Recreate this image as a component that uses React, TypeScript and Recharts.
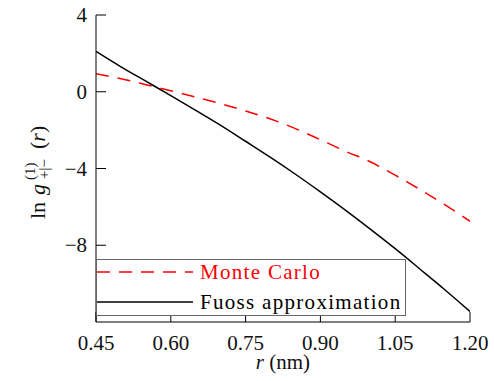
import React from "react";
import { LineChart, Line, XAxis, YAxis, Legend } from "recharts";

// r in nm, ln g values
const rValues = [0.45, 0.5, 0.55, 0.6, 0.65, 0.7, 0.75, 0.8, 0.85, 0.9, 0.95, 1.0, 1.05, 1.1, 1.15, 1.2];
const monteCarlo = [0.94, 0.68, 0.37, 0.05, -0.28, -0.62, -1.0, -1.42, -1.92, -2.5, -3.1, -3.65, -4.35, -5.1, -5.9, -6.75];
const fuoss = [2.1, 1.3, 0.55, -0.2, -0.97, -1.75, -2.58, -3.42, -4.3, -5.22, -6.17, -7.16, -8.18, -9.25, -10.33, -11.45];

const xTicks = [0.45, 0.6, 0.75, 0.9, 1.05, 1.2];
const yTicks = [-8, -4, 0, 4];
const legendOrder = ["Monte Carlo", "Fuoss approximation"];

const data = rValues.map((r, i) => ({ r, mc: monteCarlo[i], fuoss: fuoss[i] }));

const FONT = "'Liberation Serif', 'Times New Roman', serif";
const TICK_LEN = 10;

const fmtY = (v: number) => (v < 0 ? "\u2212" + Math.abs(v) : String(v));

const BottomTick = ({ x, y, payload }: any) => (
  <g>
    <line x1={x} x2={x} y1={y} y2={y - TICK_LEN} stroke="#000" />
    <text x={x} y={y + 28} textAnchor="middle" fontFamily={FONT} fontSize={21} fill="#111">
      {payload.value.toFixed(2)}
    </text>
  </g>
);

const TopTick = ({ x, y }: any) => (
  <line x1={x} x2={x} y1={y} y2={y + TICK_LEN} stroke="#444" />
);

const LeftTick = ({ x, y, payload }: any) => (
  <g>
    <line x1={x} x2={x + TICK_LEN} y1={y} y2={y} stroke="#000" />
    <text x={x - 9} y={y + 7} textAnchor="end" fontFamily={FONT} fontSize={21} fill="#111">
      {fmtY(payload.value)}
    </text>
  </g>
);

const RightTick = ({ x, y }: any) => (
  <line x1={x} x2={x - TICK_LEN} y1={y} y2={y} stroke="#444" />
);

const YLabel = () => (
  <g transform="translate(45,170) rotate(-90)" fontFamily={FONT} fill="#111">
    <text x={-49} y={0} fontSize={22}>ln</text>
    <text x={-25} y={0} fontSize={22} fontStyle="italic">g</text>
    <text x={-10} y={-10} fontSize={15}>(1)</text>
    <text x={-9} y={4} fontSize={15}>+|−</text>
    <text x={21} y={0} fontSize={22}>
      (<tspan fontStyle="italic">r</tspan>)
    </text>
  </g>
);

const XLabel = ({ viewBox }: any) => (
  <text x={283} y={viewBox.y + 47} textAnchor="middle" fontFamily={FONT} fontSize={21} fill="#111">
    <tspan fontStyle="italic">r</tspan> (nm)
  </text>
);

const LegendBox = ({ payload }: any) => {
  const items = [...(payload || [])].sort(
    (a: any, b: any) => legendOrder.indexOf(a.value) - legendOrder.indexOf(b.value)
  );
  return (
    <div style={{ width: 310, height: 57, boxSizing: "border-box", border: "1px solid #666", background: "#fff" }}>
      <svg width={308} height={55} style={{ display: "block" }}>
        {items.map((entry: any, i: number) => {
          const cy = 12 + i * 30;
          return (
            <g key={entry.value}>
              <line
                x1={0}
                x2={96}
                y1={cy}
                y2={cy}
                stroke={entry.color}
                strokeWidth={1.5}
                strokeDasharray={entry.payload?.strokeDasharray}
              />
              <text x={103} y={cy + 7} fontFamily={FONT} fontSize={21} letterSpacing={1.3} fill={entry.color}>
                {entry.value}
              </text>
            </g>
          );
        })}
      </svg>
    </div>
  );
};

export default function App() {
  return (
    <>
      <style>{"body{margin:0}"}</style>
      <LineChart width={494} height={381} data={data} margin={{ top: 15, right: 24, bottom: 0, left: 0 }}>
        <XAxis
          dataKey="r"
          type="number"
          domain={[0.45, 1.2]}
          ticks={xTicks}
          allowDataOverflow
          height={59}
          tickSize={0}
          tickMargin={0}
          tick={<BottomTick />}
          axisLine={{ stroke: "#000" }}
          label={<XLabel />}
        />
        <XAxis
          xAxisId="top"
          orientation="top"
          dataKey="r"
          type="number"
          domain={[0.45, 1.2]}
          ticks={xTicks}
          allowDataOverflow
          height={0}
          tickSize={0}
          tickMargin={0}
          tick={<TopTick />}
          axisLine={{ stroke: "#000" }}
        />
        <YAxis
          type="number"
          domain={[-12, 4]}
          ticks={yTicks}
          allowDataOverflow
          width={96}
          tickSize={0}
          tickMargin={0}
          tick={<LeftTick />}
          axisLine={{ stroke: "#000" }}
          label={<YLabel />}
        />
        <YAxis
          yAxisId="right"
          orientation="right"
          type="number"
          domain={[-12, 4]}
          ticks={yTicks}
          allowDataOverflow
          width={0}
          tickSize={0}
          tickMargin={0}
          tick={<RightTick />}
          axisLine={{ stroke: "#000" }}
        />
        <Line
          dataKey="mc"
          name="Monte Carlo"
          type="monotone"
          stroke="#ff0000"
          strokeWidth={1.5}
          strokeDasharray="13 9"
          dot={false}
          isAnimationActive={false}
        />
        <Line
          dataKey="fuoss"
          name="Fuoss approximation"
          type="monotone"
          stroke="#000"
          strokeWidth={1.5}
          dot={false}
          isAnimationActive={false}
        />
        <Legend
          layout="vertical"
          verticalAlign="middle"
          align="center"
          content={<LegendBox />}
          wrapperStyle={{ position: "absolute", left: 96, top: 259, width: 310, height: 57 }}
        />
      </LineChart>
    </>
  );
}
